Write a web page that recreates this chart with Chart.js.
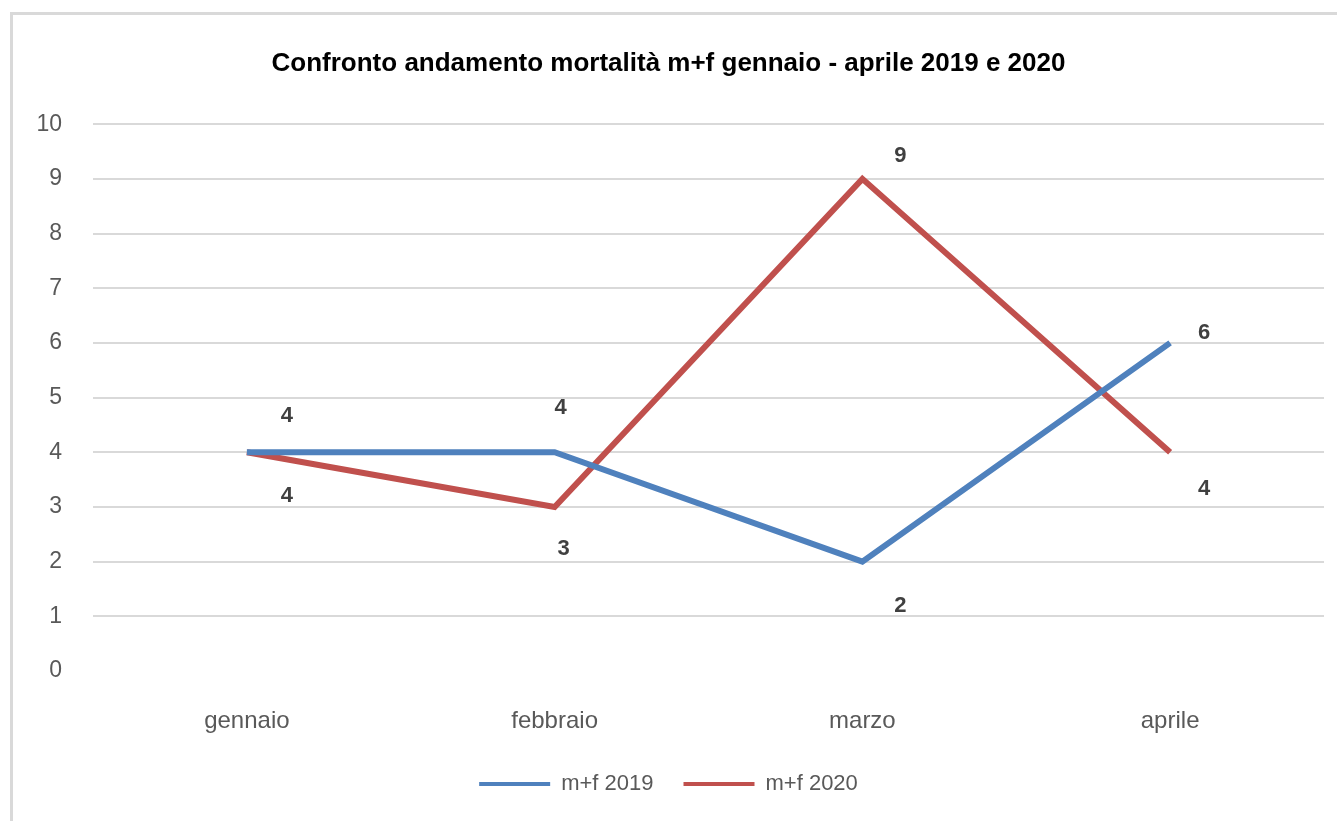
<!DOCTYPE html>
<html>
<head>
<meta charset="utf-8">
<script src="https://cdn.jsdelivr.net/npm/chart.js@4"></script>
<style>
  html, body { margin: 0; padding: 0; background: #fff; overflow: hidden; }
  #box {
    position: absolute; left: 10px; top: 12px;
    width: 1324px; height: 806px;
    border-left: 3px solid #d9d9d9; border-top: 3px solid #d9d9d9;
  }
</style>
</head>
<body>
<div id="box"><canvas id="chart" width="1324" height="806"></canvas></div>
<script>
const months = ["gennaio", "febbraio", "marzo", "aprile"];
const mf2019 = [4, 4, 2, 6];
const mf2020 = [4, 3, 9, 4];
const yTicks = [0, 1, 2, 3, 4, 5, 6, 7, 8, 9, 10];

// where each value label sits relative to its point (px)
const labelOffsets = [
  [[40, -36], [6, -44], [38, 44], [34, -10]],
  [[40, 44], [9, 42], [38, -23], [34, 37]],
];

const FONT = "'Liberation Sans', Arial, sans-serif";

const valueLabels = {
  id: "valueLabels",
  afterDatasetsDraw(chart) {
    const ctx = chart.ctx;
    ctx.save();
    ctx.font = "bold 22px " + FONT;
    ctx.fillStyle = "#404040";
    ctx.textAlign = "center";
    ctx.textBaseline = "middle";
    chart.data.datasets.forEach((ds, i) => {
      chart.getDatasetMeta(i).data.forEach((pt, j) => {
        const off = labelOffsets[i][j];
        ctx.fillText(ds.data[j], pt.x + off[0], pt.y + off[1]);
      });
    });
    ctx.restore();
  },
};

const ctx = document.getElementById("chart").getContext("2d");
new Chart(ctx, {
  type: "line",
  data: {
    labels: months,
    datasets: [
      {
        label: "m+f 2019",
        data: mf2019,
        borderColor: "#4f81bd",
        backgroundColor: "#4f81bd",
        borderWidth: 6,
        pointRadius: 0,
        tension: 0,
      },
      {
        label: "m+f 2020",
        data: mf2020,
        borderColor: "#c0504d",
        backgroundColor: "#c0504d",
        borderWidth: 6,
        pointRadius: 0,
        tension: 0,
      },
    ],
  },
  options: {
    responsive: false,
    animation: false,
    layout: { padding: { left: 0, right: 13, top: 0, bottom: 16 } },
    plugins: {
      title: {
        display: true,
        text: "Confronto andamento mortalità m+f gennaio - aprile 2019 e 2020",
        color: "#000",
        font: { family: FONT, size: 26, weight: "bold" },
        padding: { top: 33, bottom: 45 },
      },
      legend: {
        position: "bottom",
        labels: {
          color: "#595959",
          font: { family: FONT, size: 22 },
          boxWidth: 71,
          boxHeight: 4,
          padding: 30,
          generateLabels(chart) {
            return Chart.defaults.plugins.legend.labels.generateLabels(chart).map((it) => {
              it.lineWidth = 0;
              return it;
            });
          },
        },
      },
      tooltip: { enabled: false },
    },
    scales: {
      x: {
        offset: true,
        grid: { display: false },
        border: { display: false },
        ticks: {
          color: "#595959",
          padding: 28,
          font: { family: FONT, size: 24 },
        },
        afterFit(axis) {
          axis.height = 72;
        },
      },
      y: {
        min: yTicks[0],
        max: yTicks[yTicks.length - 1],
        afterBuildTicks(axis) {
          axis.ticks = yTicks.map((v) => ({ value: v }));
        },
        afterFit(axis) {
          axis.width = 80;
        },
        border: { display: false },
        grid: {
          drawTicks: false,
          lineWidth: 2,
          color: (c) => (c.tick && c.tick.value === 0 ? "rgba(0,0,0,0)" : "#d9d9d9"),
        },
        ticks: {
          color: "#595959",
          padding: 31,
          font: { family: FONT, size: 23 },
        },
      },
    },
  },
  plugins: [valueLabels],
});
</script>
</body>
</html>
